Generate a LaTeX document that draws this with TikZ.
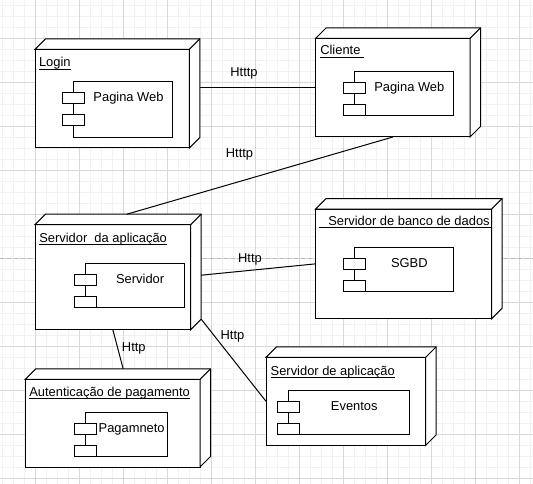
\documentclass[tikz,border=0pt]{standalone}
\usepackage{fontspec}
\setmainfont{Liberation Sans}
\usetikzlibrary{calc}
\definecolor{finegrid}{RGB}{241,241,241}
\definecolor{majorgrid}{RGB}{216,216,216}
\definecolor{pagebreak}{RGB}{185,185,185}
\tikzset{
  boxline/.style={draw=black, line width=1pt, line join=miter},
  front/.style={boxline, fill=white, anchor=north west, inner sep=0pt, outer sep=0pt},
  comprect/.style={boxline, fill=white, anchor=north west, inner sep=0pt, outer sep=0pt},
  comptab/.style={boxline, fill=white, inner sep=0pt, outer sep=0pt, minimum width=22pt, minimum height=11pt},
  txt/.style={inner sep=0pt, outer sep=0pt, font=\fontsize{12.9}{14}\selectfont, text=black},
  lbl/.style={txt, anchor=base west},
  ctext/.style={txt, anchor=base},
  conn/.style={draw=black, line width=1pt},
  uline/.style={draw=black, line width=0.9pt},
}
% 3D deployment node: name, x, y, width, height
\newcommand{\depbox}[5]{%
  \node[front, minimum width=#4pt, minimum height=#5pt] (#1) at (#2,#3) {};
  \draw[boxline, fill=white] (#1.north west) -- ++(10.5,-10.5)
     -- ([shift={(10.5,-10.5)}]#1.north east)
     -- ([shift={(10.5,-10.5)}]#1.south east)
     -- (#1.south east) -- (#1.north east) -- cycle;
  \draw[boxline] (#1.north east) -- ++(10.5,-10.5);
}
% component: name, x, y, width, height, text
\newcommand{\compo}[6]{%
  \node[comprect, minimum width=#4pt, minimum height=#5pt] (#1) at (#2,#3) {};
  \node[comptab, anchor=north west] (#1t1) at ([shift={(-11,11.3)}]#1.north west) {};
  \node[comptab, anchor=north west] (#1t2) at ([shift={(-11,33.3)}]#1.north west) {};
  \node[ctext] (#1txt) at ({#2+(#4+11)/2},{#3+20}) {#6};
}
\begin{document}
\begin{tikzpicture}[x=1pt,y=-1pt]
\useasboundingbox (0,0) rectangle (533,484);
\fill[white] (0,0) rectangle (533,484);
% grid
\foreach \i in {0,...,48} \draw[finegrid, line width=0.8pt] ({2.7+11*\i},0) -- ({2.7+11*\i},484);
\foreach \i in {0,...,43} \draw[finegrid, line width=0.8pt] (0,{5+11*\i}) -- (533,{5+11*\i});
\foreach \i in {0,...,11} \draw[majorgrid, line width=0.8pt] ({35.7+44*\i},0) -- ({35.7+44*\i},484);
\foreach \i in {0,...,10} \draw[majorgrid, line width=0.8pt] (0,{38+44*\i}) -- (533,{38+44*\i});
\draw[pagebreak, line width=0.8pt, dash pattern=on 4pt off 3pt] (0,258.3) -- (533,258.3);

% Login
\depbox{login}{35}{49.3}{154.3}{98.7}
\node[lbl] (loginlbl) at (39,66.7) {Login};
\draw[uline] ([yshift=-2.3pt]loginlbl.base west) -- ([yshift=-2.3pt]loginlbl.base east);
\compo{loginc}{73.3}{81.7}{99.4}{55.6}{Pagina Web}

% Cliente
\depbox{cliente}{315.7}{38.3}{154.3}{98.7}
\node[lbl] (clientelbl) at (320.3,55) {Cliente};
\draw[uline] ([yshift=-2.3pt]clientelbl.base west) -- ([shift={(3.5pt,-2.3pt)}]clientelbl.base east);
\compo{clientec}{354.3}{71.3}{99}{44}{Pagina Web}

% Servidor da aplicacao
\depbox{srv}{35}{224.7}{155.7}{105}
\node[lbl] (srvlbl) at (39.3,242.3) {Servidor\ \ da aplicação};
\draw[uline] ([yshift=-2.3pt]srvlbl.base west) -- ([yshift=-2.3pt]srvlbl.base east);
\compo{srvc}{85}{263.3}{99.3}{44.4}{Servidor}

% Servidor de banco de dados
\depbox{banco}{315.7}{209}{176}{109.7}
\node[lbl] (bancolbl) at (328.3,225.7) {Servidor de banco de dados};
\draw[uline] ([shift={(3.6,18.3)}]banco.north west) -- ([shift={(0,18.3)}]banco.north east);
\compo{bancoc}{354.3}{247.3}{99}{43.7}{SGBD}

% Autenticacao de pagamento
\depbox{aut}{25.3}{379.3}{174.7}{87.7}
\node[lbl] (autlbl) at (29.3,396) {Autenticação de pagamento};
\draw[uline] ([yshift=-2.3pt]autlbl.base west) -- ([yshift=-2.3pt]autlbl.base east);
\compo{autc}{85}{412.3}{82.3}{44}{Pagamneto}

% Servidor de aplicacao
\depbox{ev}{266}{357.3}{159.7}{88}
\node[lbl] (evlbl) at (270.7,375) {Servidor de aplicação};
\draw[uline] ([yshift=-2.3pt]evlbl.base west) -- ([yshift=-2.3pt]evlbl.base east);
\compo{evc}{288.3}{390.3}{121}{44}{Eventos}

% connectors
\draw[conn] ([xshift=10.5pt]login.east |- cliente.west) -- (cliente.west);
\draw[conn] (cliente.south) -- ([shift={(14,-10.5)}]srv.north);
\draw[conn] ([shift={(10.5,-2)}]srv.east) -- (banco.west);
\draw[conn] (srv.south) -- ([shift={(10.5,-10.5)}]aut.north);
\draw[conn] ([shift={(10.5,-10.5)}]srv.south east) -- (ev.west);

% connector labels
\node[ctext] (l1) at (244,76.8) {Htttp};
\node[ctext] (l2) at (239.5,157.3) {Htttp};
\node[ctext] (l3) at (250,262.7) {Http};
\node[ctext] (l4) at (133.8,351.2) {Http};
\node[ctext] (l5) at (232.5,339.8) {Http};
\end{tikzpicture}
\end{document}
